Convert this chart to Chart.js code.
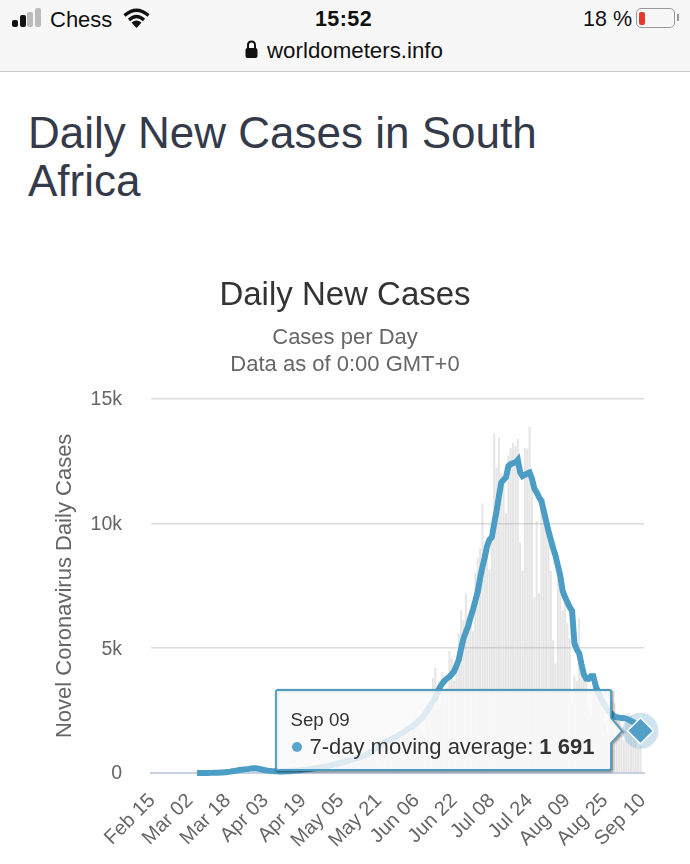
<!DOCTYPE html>
<html>
<head>
<meta charset="utf-8">
<title>Daily New Cases in South Africa</title>
<script src="https://cdn.jsdelivr.net/npm/chart.js@4"></script>
<style>
  html, body { margin: 0; padding: 0; background: #fff; }
  body { width: 690px; height: 864px; position: relative; overflow: hidden; font-family: "Liberation Sans", Arial, sans-serif; }
  #myChart { position: absolute; left: 0; top: 0; }
  .bar { position: absolute; left: 0; top: 0; width: 690px; height: 71px; background: #f7f7f7; border-bottom: 1.5px solid #c9c9c9; color: #111; }
  .bar span, .bar svg, .bar i { position: absolute; }
  .sig { width: 6px; border-radius: 2px; }
  h1 { position: absolute; left: 28px; top: 109px; width: 600px; margin: 0; font-weight: 400; font-size: 44px; line-height: 48px; color: #343a4a; }
  #tip { position: absolute; width: 360px; height: 90px; }
  #tip svg { position: absolute; left: 0; top: 0; overflow: visible; }
  #tip div { position: absolute; white-space: nowrap; color: #333; }
</style>
</head>
<body>
<div class="bar">
  <i class="sig" style="left:12px;top:20px;height:7px;background:#111"></i>
  <i class="sig" style="left:20px;top:15px;height:12px;background:#111"></i>
  <i class="sig" style="left:27px;top:12px;height:15px;background:#bbb"></i>
  <i class="sig" style="left:35px;top:8px;height:19px;background:#bbb"></i>
  <span style="left:50px;top:7px;font-size:22px">Chess</span>
  <svg style="left:123px;top:8px" width="27" height="20" viewBox="0 0 27 20" fill="none" stroke="#111" stroke-width="3.200">
    <path d="M1.500 7.500 Q13.500 -3 25.500 7.500"/><path d="M6 12 Q13.500 5 21 12"/><path d="M13.500 20 L8.500 14.500 Q13.500 10.500 18.500 14.500 Z" fill="#111" stroke="none"/>
  </svg>
  <span style="left:315px;top:7px;font-size:21.5px;font-weight:700;letter-spacing:.4px">15:52</span>
  <span style="left:583px;top:7px;font-size:21.5px">18 %</span>
  <i style="left:636px;top:8px;width:37px;height:18px;border:1.5px solid #999;border-radius:5px"></i>
  <i style="left:639px;top:12px;width:6px;height:13px;background:#e9392f;border-radius:2px"></i>
  <i style="left:677px;top:14px;width:1.5px;height:7px;background:#999"></i>
  <svg style="left:244px;top:40px" width="15" height="19" viewBox="0 0 15 19">
    <path d="M4 8 V5 Q4 1.500 7.500 1.500 Q11 1.500 11 5 V8" fill="none" stroke="#111" stroke-width="2"/><rect x="1.500" y="8" width="12" height="10" rx="2" fill="#111"/>
  </svg>
  <span style="left:267px;top:38px;font-size:22.3px">worldometers.info</span>
</div>
<h1>Daily New Cases in South Africa</h1>
<canvas id="myChart" width="690" height="864"></canvas>
<div id="tip">
  <svg width="360" height="90">
    <path class="tipPath" transform="translate(1,1)" fill="none" stroke="rgba(0,0,0,.06)" stroke-width="6"/>
    <path class="tipPath" transform="translate(1,1)" fill="none" stroke="rgba(0,0,0,.12)" stroke-width="4"/>
    <path class="tipPath" transform="translate(1,1)" fill="none" stroke="rgba(0,0,0,.2)" stroke-width="2"/>
    <path class="tipPath" fill="rgba(249,249,249,.84)" stroke="#4b9cc4" stroke-width="1.800" stroke-linejoin="round"/>
  </svg>
  <div id="tipTitle" style="font-size:18.700px;left:14px;top:19px"></div>
  <svg width="12" height="12" style="left:15px;top:51px"><circle cx="6" cy="6" r="5" fill="#5aa5cb"/></svg>
  <div id="tipBody" style="font-size:22px;left:33px;top:44px"></div>
</div>
<script>
const months = [["Feb", 15, 29], ["Mar", 1, 31], ["Apr", 1, 30], ["May", 1, 31], ["Jun", 1, 30], ["Jul", 1, 31], ["Aug", 1, 31], ["Sep", 1, 10]];
const categories = [];
months.forEach(([name, from, to]) => {
  for (let d = from; d <= to; d++) categories.push(name + " " + String(d).padStart(2, "0"));
});

const xTickLabels = ["Feb 15", "Mar 02", "Mar 18", "Apr 03", "Apr 19", "May 05", "May 21", "Jun 06", "Jun 22", "Jul 08", "Jul 24", "Aug 09", "Aug 25", "Sep 10"];
const yTickLabels = ["0", "5k", "10k", "15k"];

// daily bars, ten days per row, starting Feb 15
const dailyCases = [
  null, null, null, null, null, null, null, null, null, null,
  null, null, null, null, null, null, null, null, null, 1,
  0, 1, 1, 3, 6, 3, 17, 13, 16, 24,
  62, 33, 52, 34, 38, 54, 96, 128, 61, 109,
  218, 243, 17, 93, 46, 27, 13, 31, 39, 61,
  45, 96, 99, 69, 25, 50, 75, 54, 65, 68,
  54, 86, 38, 65, 143, 178, 95, 88, 104, 124,
  145, 217, 279, 192, 163, 197, 130, 160, 247, 355,
  365, 424, 437, 292, 350, 595, 485, 419, 472, 580,
  663, 655, 1160, 958, 803, 447, 1240, 1032, 1134, 1218,
  1100, 1200, 1300, 1100, 1000, 1500, 1600, 1700, 1500, 1600,
  1700, 1800, 2300, 1900, 1700, 1500, 2400, 2300, 2400, 3800,
  4240, 2900, 2700, 4040, 3300, 3400, 4890, 4600, 3700, 4300,
  5600, 6520, 6120, 7200, 6100, 6300, 5700, 8040, 8640, 9000,
  10800, 9060, 8770, 8160, 10000, 13600, 12240, 13440, 12000, 11500,
  10400, 12720, 13040, 13240, 13100, 13400, 9240, 8120, 13040, 13000,
  13880, 12000, 7040, 10100, 7200, 10900, 11000, 10100, 10100, 8120,
  5320, 4400, 8550, 8300, 6500, 7100, 6000, 5400, 2800, 3920,
  3700, 6200, 4500, 3900, 3700, 2500, 2300, 3400, 3800, 3200,
  3300, 2900, 2000, 1600, 2500, 2900, 2800, 2400, 2200, 1500,
  1300, 2000, 2400, 2300, 2000, 1500, 1000, 1100
];

// 7-day moving average, same rows
const movingAvg = [
  null, null, null, null, null, null, null, null, null, null,
  null, null, null, null, null, null, null, null, null, 1,
  1, 1, 2, 2, 3, 5, 8, 10, 14, 18,
  24, 32, 42, 54, 70, 85, 100, 118, 132, 145,
  155, 165, 178, 190, 188, 170, 150, 128, 110, 95,
  85, 75, 70, 65, 62, 58, 60, 65, 72, 80,
  88, 95, 105, 112, 125, 135, 150, 160, 175, 190,
  205, 215, 235, 250, 270, 295, 320, 340, 365, 390,
  410, 430, 455, 470, 520, 545, 570, 600, 625, 660,
  700, 745, 800, 860, 920, 990, 1060, 1130, 1190, 1260,
  1300, 1340, 1390, 1430, 1480, 1540, 1600, 1660, 1730, 1790,
  1850, 1920, 2000, 2080, 2170, 2280, 2400, 2560, 2720, 2860,
  3000, 3250, 3450, 3590, 3700, 3790, 3860, 3960, 4080, 4300,
  4550, 5000, 5400, 5650, 5900, 6250, 6550, 6900, 7250, 7800,
  8250, 8650, 9100, 9350, 9450, 10000, 10500, 11100, 11640, 11750,
  11850, 12300, 12380, 12420, 12440, 12550, 12050, 11900, 11950, 12000,
  12040, 11800, 11400, 11250, 11050, 10900, 10500, 10100, 9700, 9350,
  9000, 8700, 8300, 7900, 7300, 7050, 6850, 6650, 6500, 5200,
  4950, 4800, 4350, 3950, 3780, 3770, 3880, 3880, 3500, 3250,
  3050, 2850, 2700, 2550, 2420, 2350, 2250, 2230, 2220, 2200,
  2190, 2180, 2130, 2080, 2040, 1950, 1820, 1691
];

const lastIdx = movingAvg.length - 1;
const blue = "#4c9dc5";

Chart.defaults.font.family = '"Liberation Sans", Arial, sans-serif';

const ctx = document.getElementById("myChart");
const chart = new Chart(ctx, {
  data: {
    labels: categories,
    datasets: [
      {
        type: "line",
        label: "7-day moving average",
        data: movingAvg,
        borderColor: blue,
        borderWidth: 6,
        tension: 0,
        clip: false,
        order: 1,
        pointStyle: "rectRot",
        pointRadius: (c) => (c.dataIndex === lastIdx ? 13 : 0),
        pointBackgroundColor: "#529fc8",
        pointBorderColor: "#fff",
        pointBorderWidth: 1.5,
      },
      {
        type: "line",
        label: "highlight",
        data: movingAvg.map((v, i) => (i === lastIdx ? v : null)),
        showLine: false,
        clip: false,
        order: 2,
        pointRadius: 18,
        pointBackgroundColor: "rgba(76,157,197,0.27)",
        pointBorderWidth: 0,
      },
      {
        type: "bar",
        label: "Daily Cases",
        data: dailyCases,
        backgroundColor: "rgba(160,160,160,0.28)",
        barPercentage: 1,
        categoryPercentage: 0.85,
        order: 3,
      },
    ],
  },
  options: {
    responsive: false,
    animation: false,
    events: [],
    layout: { padding: { top: 276, right: 46, left: 46, bottom: 0 } },
    plugins: {
      legend: { display: false },
      tooltip: { enabled: false },
      title: {
        display: true,
        text: "Daily New Cases",
        color: "#333",
        font: { size: 33, weight: "normal" },
        padding: { top: 0, bottom: 9 },
      },
      subtitle: {
        display: true,
        text: ["Cases per Day", "Data as of 0:00 GMT+0"],
        color: "#666",
        font: { size: 22, lineHeight: 1.23 },
        padding: { top: 0, bottom: 20 },
      },
    },
    scales: {
      x: {
        grid: { display: false },
        border: { color: "#c6d2e4", width: 2 },
        afterFit: (scale) => { scale.height = 91; },
        ticks: {
          autoSkip: false,
          maxRotation: 45,
          minRotation: 45,
          color: "#666",
          font: { size: 20 },
          padding: 8,
          callback: (value, i) => (i % 16 === 0 ? xTickLabels[i / 16] : ""),
        },
      },
      y: {
        min: 0,
        max: 15000,
        grid: { color: "#dcdcdc", lineWidth: 1.500, drawTicks: false },
        border: { display: false },
        afterFit: (scale) => { scale.width = 105; },
        title: {
          display: true,
          text: "Novel Coronavirus Daily Cases",
          color: "#666",
          font: { size: 22 },
          padding: { top: 6, bottom: 0 },
        },
        ticks: {
          stepSize: 5000,
          color: "#666",
          font: { size: 19.5 },
          padding: 29,
          labelOffset: 1,
          callback: (value) => yTickLabels[value / 5000],
        },
      },
    },
  },
});

// tooltip box pinned to the last point, left of the diamond
const px = chart.scales.x.getPixelForValue(lastIdx);
const py = chart.scales.y.getPixelForValue(movingAvg[lastIdx]);
const tip = document.getElementById("tip");
tip.style.left = (px - 364) + "px";
tip.style.top = (py - 40.5) + "px";
document.querySelectorAll(".tipPath").forEach((p) => p.setAttribute("d",
  "M2 0 H333 Q335 0 335 2 V28 L346 41 L335 53 V78 Q335 80 333 80 H2 Q0 80 0 78 V2 Q0 0 2 0 Z"));
document.getElementById("tipTitle").textContent = categories[lastIdx];
document.getElementById("tipBody").innerHTML = chart.data.datasets[0].label + ": <b>1 691</b>";
</script>
</body>
</html>
